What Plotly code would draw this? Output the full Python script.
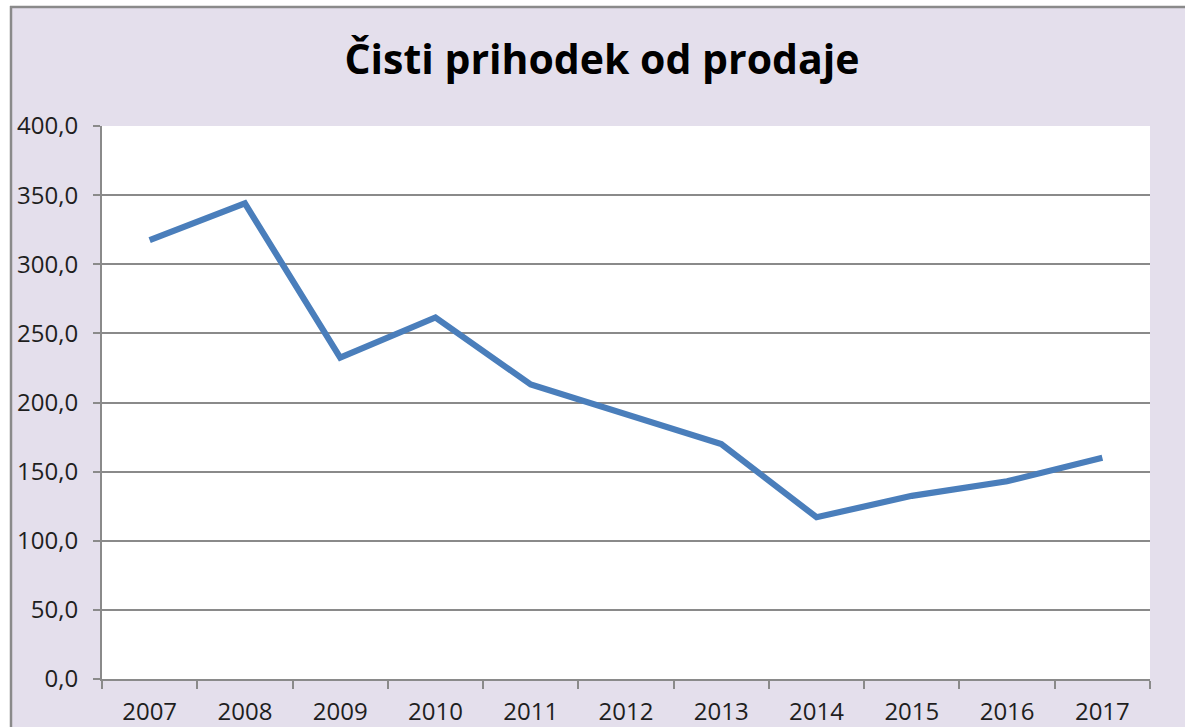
import plotly.graph_objects as go

years = ["2007", "2008", "2009", "2010", "2011", "2012", "2013", "2014", "2015", "2016", "2017"]
values = [317.5, 344.0, 232.5, 261.5, 213.0, 191.5, 170.0, 117.0, 132.5, 143.0, 160.0]
y_ticks = [0, 50, 100, 150, 200, 250, 300, 350, 400]
y_tick_labels = ["0,0", "50,0", "100,0", "150,0", "200,0", "250,0", "300,0", "350,0", "400,0"]
title_text = "Čisti prihodek od prodaje"

W, H = 1185, 727
ML, MR, MT, MB = 102, 35, 126, 48
PW, PH = W - ML - MR, H - MT - MB

def px_x(p):
    return (p - ML) / PW

def px_y(p):
    return (H - MB - p) / PH

grid_col = "#8A8A8A"
bg = "#E4DFEC"
font_fam = "Open Sans, Noto Sans, sans-serif"
txt_col = "#1E1E1E"

fig = go.Figure(go.Scatter(
    x=years, y=values, mode="lines",
    line=dict(color="#4A7EBB", width=6.2, shape="linear"),
    hoverinfo="x+y",
))

shapes = [
    dict(type="rect", xref="paper", yref="paper", x0=px_x(-5), x1=px_x(10), y0=px_y(H + 10), y1=px_y(-5),
         fillcolor="white", line=dict(width=0), layer="below"),
    dict(type="rect", xref="paper", yref="paper", x0=px_x(-5), x1=px_x(W + 10), y0=px_y(6), y1=px_y(-5),
         fillcolor="white", line=dict(width=0), layer="below"),
    dict(type="line", xref="paper", yref="paper", x0=px_x(10), x1=px_x(W + 10), y0=px_y(7), y1=px_y(7),
         line=dict(color=grid_col, width=2.5), layer="below"),
    dict(type="line", xref="paper", yref="paper", x0=px_x(11), x1=px_x(11), y0=px_y(6), y1=px_y(H + 10),
         line=dict(color=grid_col, width=2.5), layer="below"),
]

fig.update_layout(
    width=W, height=H,
    margin=dict(l=ML, r=MR, t=MT, b=MB, pad=0),
    paper_bgcolor=bg, plot_bgcolor="white",
    showlegend=False,
    title=dict(text="<b>" + title_text + "</b>", x=602 / W, xref="container", xanchor="center",
               y=1 - 60 / H, yref="container", yanchor="middle",
               font=dict(family=font_fam, size=41, color="black")),
    font=dict(family=font_fam, color=txt_col),
    shapes=shapes,
)

fig.update_xaxes(
    type="category", categoryorder="array", categoryarray=years,
    range=[-0.5, len(years) - 0.5],
    tickson="boundaries", ticks="outside", ticklen=8, tickwidth=2, tickcolor=grid_col,
    showline=True, linecolor=grid_col, linewidth=2,
    showgrid=False, tickfont=dict(size=24, color=txt_col), ticklabelstandoff=10,
    automargin=False, fixedrange=True,
)
fig.update_yaxes(
    range=[0, 400], tickmode="array", tickvals=y_ticks, ticktext=y_tick_labels,
    ticks="outside", ticklen=7, tickwidth=2, tickcolor=grid_col,
    showline=True, linecolor=grid_col, linewidth=2,
    showgrid=True, gridcolor=grid_col, gridwidth=2, zeroline=False,
    tickfont=dict(size=24, color=txt_col), ticklabelstandoff=10,
    automargin=False, fixedrange=True,
)

fig.write_html(
    "out.html",
    config={"displayModeBar": False},
    post_script="document.body.style.margin='0';document.body.style.overflow='hidden';",
)
